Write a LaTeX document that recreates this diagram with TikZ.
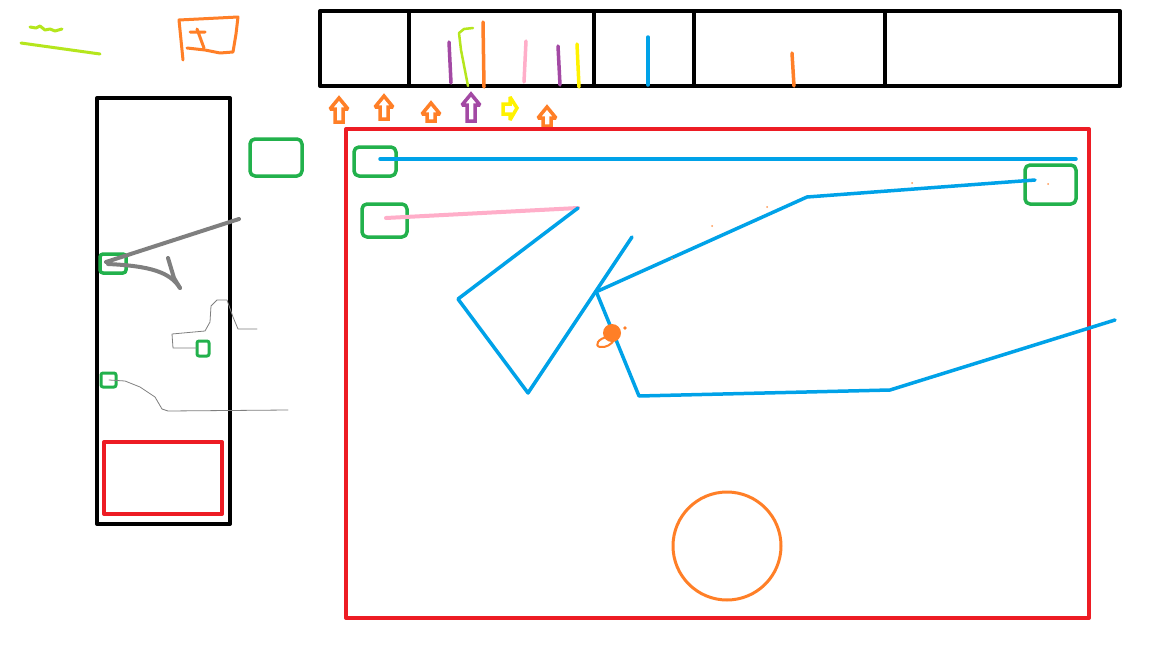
\documentclass[tikz,border=0pt]{standalone}
\begin{document}
\begin{tikzpicture}[x=1pt,y=-1pt,line cap=round,line join=round,
  frame/.style={draw=black,line width=4pt},
  redbox/.style={line width=4pt},
  grn/.style={line width=3.5pt,rounded corners=5pt},
  blu/.style={line width=3.5pt},
  stroke/.style={line width=3.5pt},
  arr/.style={line width=3.5pt,line join=miter,miter limit=2,fill=white}]
\definecolor{sketchorange}{RGB}{255,127,39}
\definecolor{sketchlime}{RGB}{181,230,29}
\definecolor{sketchpurple}{RGB}{163,73,164}
\definecolor{sketchpink}{RGB}{255,174,201}
\definecolor{sketchyellow}{RGB}{255,242,0}
\definecolor{sketchblue}{RGB}{0,162,232}
\definecolor{sketchgreen}{RGB}{34,177,76}
\definecolor{sketchred}{RGB}{237,28,36}
\definecolor{sketchgray}{RGB}{127,127,127}
\tikzset{grn/.append style={draw=sketchgreen},blu/.append style={draw=sketchblue},
  redbox/.append style={draw=sketchred}}
\useasboundingbox (0,0) rectangle (1152,648);
\fill[white] (0,0) rectangle (1152,648);
% lime scribbles
\draw[sketchlime,line width=3pt] (30,27)--(36,28)--(40,26)--(45,30)--(50,29)--(55,31)--(62,29);
\draw[sketchlime,line width=3pt] (21,43)--(100,54);
% orange flag
\draw[sketchorange,line width=3pt] (183,60)--(179,20)--(238,17)--(236,34)--(233,52)--(220,53)--(205,50)--(187,48);
\draw[sketchorange,line width=3pt] (190,32)--(205,32) (197,29)--(204,48);
% top bar
\draw[frame] (320,11) rectangle (1120,86);
\foreach \xx in {409,594,694,885} \draw[frame] (\xx,11)--(\xx,86);
\draw[sketchpurple,stroke] (449,42)--(451,83);
\draw[sketchlime,line width=2.5pt] (473,28)--(464,29)--(459,33)--(461,50)--(468,86);
\draw[sketchorange,stroke] (483,22)--(484,87);
\draw[sketchpink,stroke] (526,41)--(524,82);
\draw[sketchpurple,stroke] (558,46)--(560,85);
\draw[sketchyellow,stroke] (577,44)--(579,87);
\draw[sketchblue,stroke] (648,37)--(648,85);
\draw[sketchorange,stroke] (792,53)--(794,86);
% block arrows
\foreach \xx/\yt/\yb/\cc in {339/98/122/sketchorange,384/96/119/sketchorange,431/103/121/sketchorange,471/94/121/sketchpurple,547/107/126/sketchorange}{
  \draw[arr,draw=\cc] (\xx,\yt)--(\xx+9,\yt+11)--(\xx+4,\yt+11)--(\xx+4,\yb)--(\xx-4,\yb)--(\xx-4,\yt+11)--(\xx-9,\yt+11)--cycle;
}
\draw[arr,draw=sketchyellow] (503,104)--(510,104)--(510,97)--(517,108)--(510,120)--(510,114)--(503,114)--cycle;
% left panel
\draw[frame] (97,98) rectangle (230,524);
\draw[redbox] (104,442) rectangle (222,514);
\draw[grn] (250,139) rectangle (302,176);
\draw[grn,rounded corners=3pt] (100,254) rectangle (126,273);
\draw[grn,rounded corners=2pt,line width=3pt] (197,341) rectangle (209,356);
\draw[grn,rounded corners=2pt,line width=3pt] (101,373) rectangle (116,387);
\draw[sketchgray,line width=4pt] (106,262)--(239,219);
\draw[sketchgray,line width=4pt] (108,264) .. controls (150,266) and (170,272) .. (180,288);
\draw[sketchgray,line width=4pt] (168,258)--(174,278)--(180,288);
\draw[sketchgray,line width=0.8pt] (197,348)--(173,348)--(172,334)--(205,331)--(210,322)--(211,306)--(217,300)--(227,300)--(233,317)--(238,329)--(257,329);
\draw[sketchgray,line width=0.8pt] (109,380)--(125,381)--(140,387)--(155,397)--(162,409)--(168,411)--(288,410);
% main red frame
\draw[redbox] (346,129) rectangle (1089,618);
\draw[grn] (354,147) rectangle (396,176);
\draw[grn] (362,204) rectangle (407,237);
\draw[grn] (1025,165) rectangle (1076,204);
\draw[blu] (380,159)--(1076,159);
\draw[sketchpink,line width=4pt] (386,218)--(578,208);
\draw[blu] (578,208)--(458,299)--(528,393)--(632,237);
\draw[blu] (598,291)--(807,197)--(1035,180);
\draw[blu] (596,291)--(639,396)--(890,390)--(1115,320);
% orange marks
\fill[sketchorange] (612,333) circle (9pt);
\fill[sketchorange] (625,328) circle (1.8pt);
\draw[sketchorange,line width=2pt] (608,337) .. controls (598,338) and (594,346) .. (600,347) .. controls (606,348) and (612,344) .. (614,340);
\draw[sketchorange,line width=3pt] (727,546) circle (54pt);
\foreach \pt in {(672,259),(712,226),(767,207),(912,183),(1048,184)}
  \fill[sketchorange!80] \pt circle (1pt);
\end{tikzpicture}
\end{document}
